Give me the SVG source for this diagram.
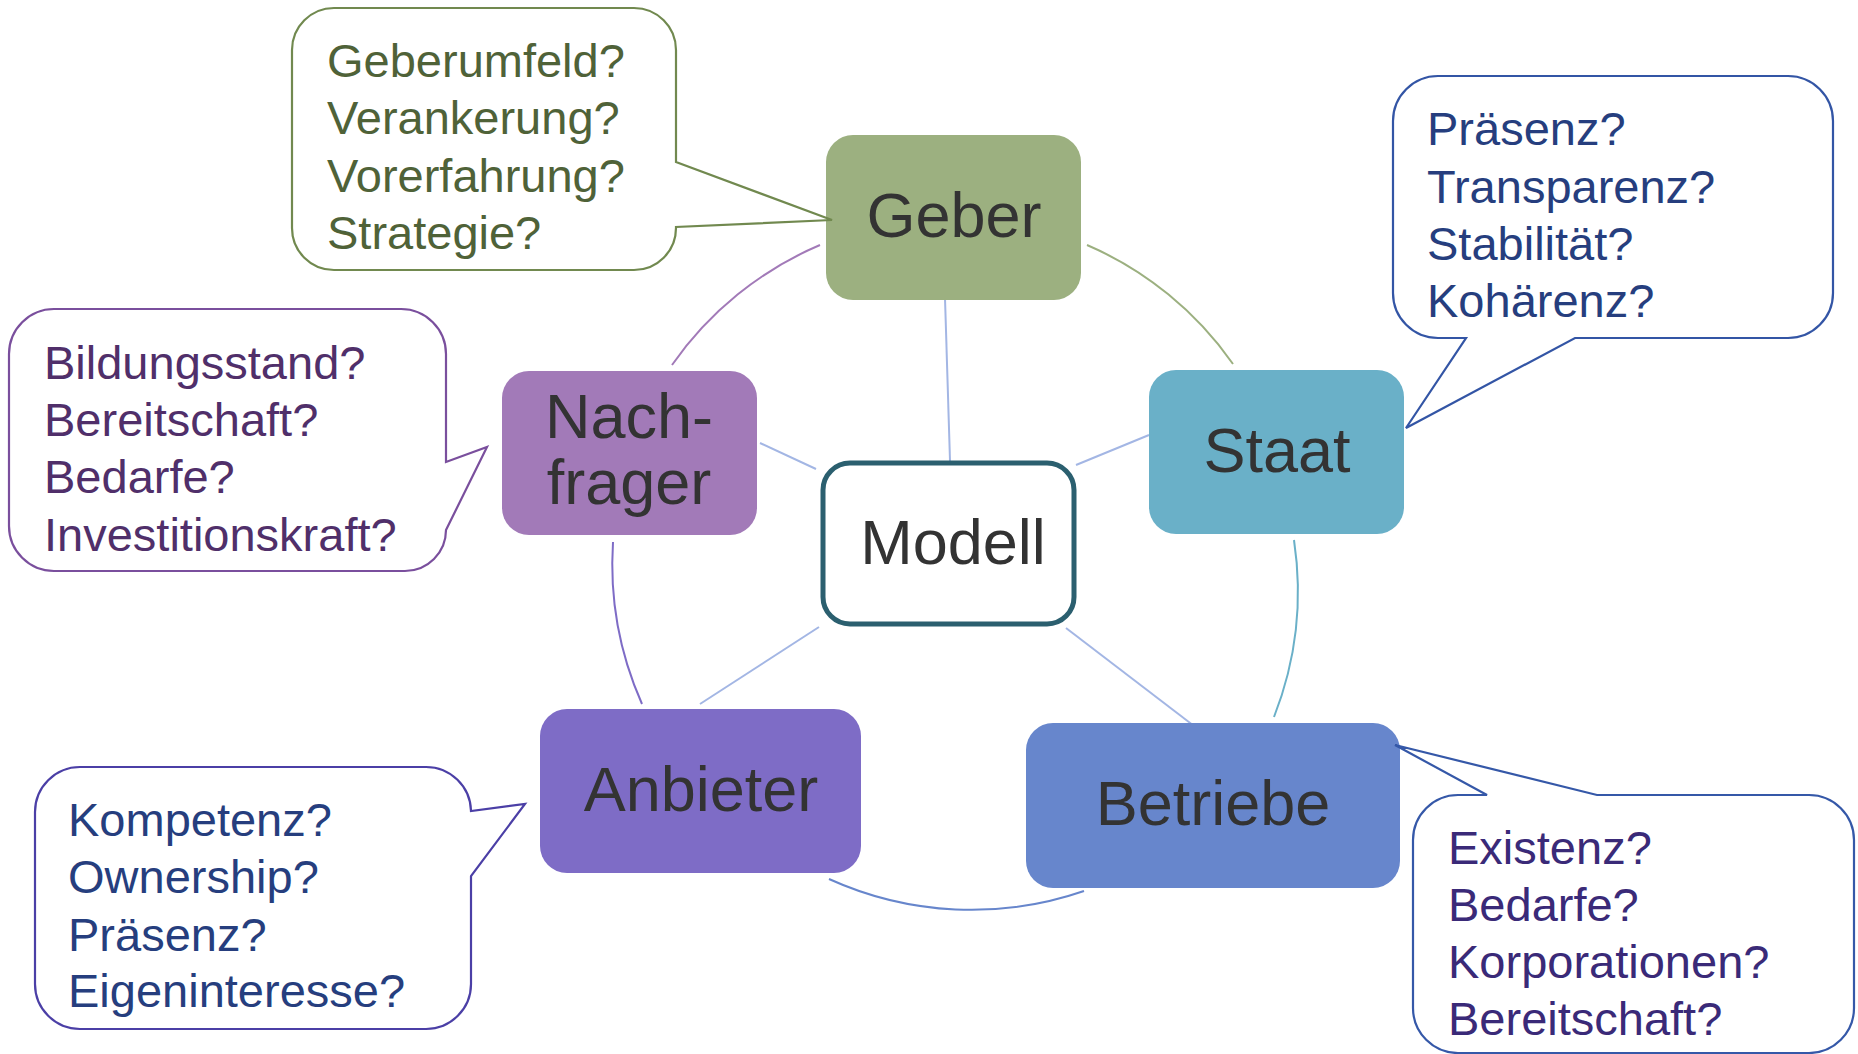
<svg xmlns="http://www.w3.org/2000/svg" width="1858" height="1054" viewBox="0 0 1858 1054">
<style>
.lbl{font-family:"Liberation Sans",Arial,sans-serif;font-size:63px;fill:#333333;text-anchor:middle}
.q{font-family:"Liberation Sans",Arial,sans-serif;font-size:47px}
.co{fill:#ffffff;stroke-width:2.2;stroke-linejoin:miter}
.radial{stroke:#A3B6E4;stroke-width:2;fill:none}
.arc{fill:none;stroke-width:2}
</style>
<rect width="1858" height="1054" fill="#ffffff"/>
<g id="connectors">
  <line class="radial" x1="945" y1="298" x2="950" y2="461"/>
  <line class="radial" x1="760" y1="443" x2="816" y2="469"/>
  <line class="radial" x1="1149" y1="435" x2="1076" y2="465"/>
  <line class="radial" x1="819" y1="627" x2="700" y2="704"/>
  <line class="radial" x1="1066" y1="628" x2="1198" y2="729"/>
  <path class="arc" stroke="#A27AB8" d="M672,365 A345,345 0 0 1 820,245"/>
  <path class="arc" stroke="#9CB080" d="M1087,245 A345,345 0 0 1 1233,364"/>
  <path class="arc" stroke="#6AB0C8" d="M1294,540 A345,345 0 0 1 1274,717"/>
  <path class="arc" stroke="#6786CC" d="M1084,891 A345,345 0 0 1 829,879"/>
  <path class="arc" stroke="#7E6CC6" d="M642,704 A345,345 0 0 1 613,542"/>
</g>
<g id="node-geber">
  <rect x="826" y="135" width="255" height="165" rx="27" fill="#9CB080"/>
  <text class="lbl" x="954" y="237">Geber</text>
</g>
<g id="node-staat">
  <rect x="1149" y="370" width="255" height="164" rx="27" fill="#6AB0C8"/>
  <text class="lbl" x="1277" y="472">Staat</text>
</g>
<g id="node-nachfrager">
  <rect x="502" y="371" width="255" height="164" rx="27" fill="#A27AB8"/>
  <text class="lbl" x="629" y="438">Nach-</text>
  <text class="lbl" x="629" y="504">frager</text>
</g>
<g id="node-anbieter">
  <rect x="540" y="709" width="321" height="164" rx="27" fill="#7E6CC6"/>
  <text class="lbl" x="701" y="811">Anbieter</text>
</g>
<g id="node-betriebe">
  <rect x="1026" y="723" width="374" height="165" rx="27" fill="#6786CC"/>
  <text class="lbl" x="1213" y="825">Betriebe</text>
</g>
<g id="node-modell">
  <rect x="823" y="463" width="251" height="161" rx="27" fill="#ffffff" stroke="#2B5F6F" stroke-width="5"/>
  <text class="lbl" x="953" y="564">Modell</text>
</g>
<g id="callout-geber">
  <path class="co" stroke="#71894F" d="M334,8 H634 A42,42 0 0 1 676,50 V162 L832,220 L676,227 V228 A42,42 0 0 1 634,270 H334 A42,42 0 0 1 292,228 V50 A42,42 0 0 1 334,8 Z"/>
  <g class="q" fill="#4F6238">
    <text x="327" y="77">Geberumfeld?</text>
    <text x="327" y="134">Verankerung?</text>
    <text x="327" y="192">Vorerfahrung?</text>
    <text x="327" y="249">Strategie?</text>
  </g>
</g>
<g id="callout-staat">
  <path class="co" stroke="#3355A5" d="M1438,76 H1788 A45,45 0 0 1 1833,121 V293 A45,45 0 0 1 1788,338 H1575 L1406,428 L1466,338 H1438 A45,45 0 0 1 1393,293 V121 A45,45 0 0 1 1438,76 Z"/>
  <g class="q" fill="#263E7E">
    <text x="1427" y="145">Präsenz?</text>
    <text x="1427" y="203">Transparenz?</text>
    <text x="1427" y="260">Stabilität?</text>
    <text x="1427" y="317">Kohärenz?</text>
  </g>
</g>
<g id="callout-nachfrager">
  <path class="co" stroke="#7A4F9D" d="M54,309 H401 A45,45 0 0 1 446,354 V462 L487,447 L446,530 A41,41 0 0 1 405,571 H54 A45,45 0 0 1 9,526 V354 A45,45 0 0 1 54,309 Z"/>
  <g class="q" fill="#502F6A">
    <text x="44" y="379">Bildungsstand?</text>
    <text x="44" y="436">Bereitschaft?</text>
    <text x="44" y="493">Bedarfe?</text>
    <text x="44" y="551">Investitionskraft?</text>
  </g>
</g>
<g id="callout-anbieter">
  <path class="co" stroke="#4B3FA6" d="M80,767 H426 A45,45 0 0 1 471,811 L525,804 L471,876 V984 A45,45 0 0 1 426,1029 H80 A45,45 0 0 1 35,984 V812 A45,45 0 0 1 80,767 Z"/>
  <g class="q" fill="#263E7E">
    <text x="68" y="836">Kompetenz?</text>
    <text x="68" y="893">Ownership?</text>
    <text x="68" y="951">Präsenz?</text>
    <text x="68" y="1007">Eigeninteresse?</text>
  </g>
</g>
<g id="callout-betriebe">
  <path class="co" stroke="#3558A8" d="M1458,795 H1487 L1395,745 L1597,795 H1809 A45,45 0 0 1 1854,840 V1008 A45,45 0 0 1 1809,1053 H1458 A45,45 0 0 1 1413,1008 V840 A45,45 0 0 1 1458,795 Z"/>
  <g class="q" fill="#3A2A78">
    <text x="1448" y="864">Existenz?</text>
    <text x="1448" y="921">Bedarfe?</text>
    <text x="1448" y="978">Korporationen?</text>
    <text x="1448" y="1035">Bereitschaft?</text>
  </g>
</g>
</svg>
